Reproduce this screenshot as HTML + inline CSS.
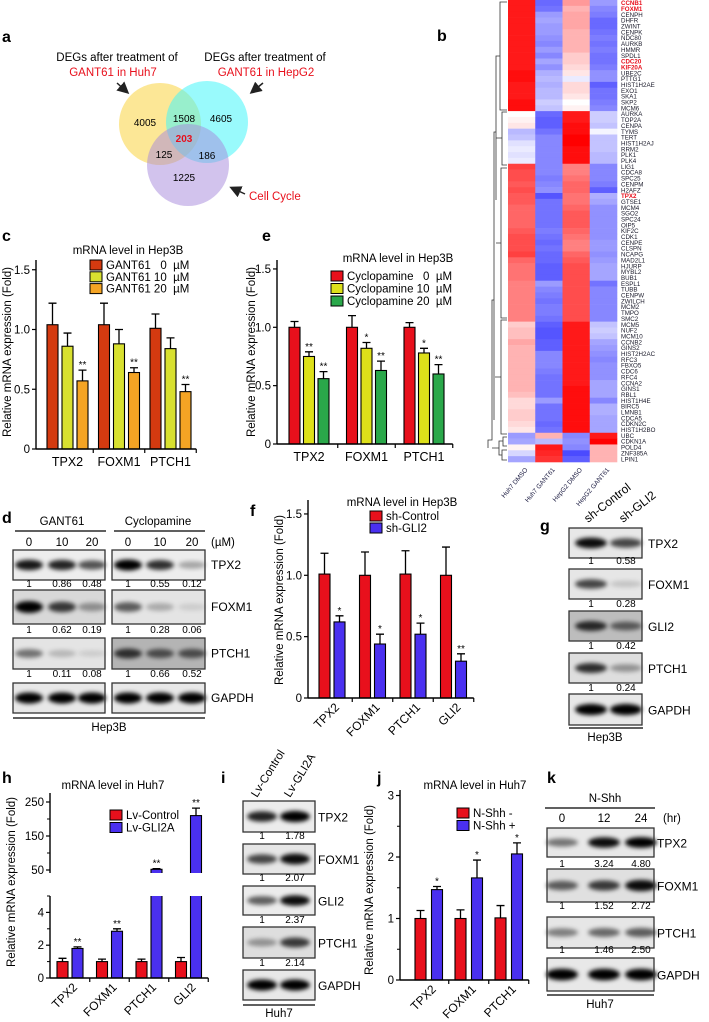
<!DOCTYPE html>
<html><head><meta charset="utf-8"><style>
html,body{margin:0;padding:0;background:#fff}
svg{display:block;font-family:"Liberation Sans",Arial,sans-serif}
text{white-space:pre}
</style></head><body>
<svg id="fig" width="709" height="1022" viewBox="0 0 709 1022" xmlns="http://www.w3.org/2000/svg">
<defs>
<filter id="blur" x="-20%" y="-50%" width="140%" height="200%"><feGaussianBlur stdDeviation="2.2"/></filter>
<marker id="arr" markerWidth="8" markerHeight="8" refX="6" refY="4" orient="auto"><path d="M0,0 L8,4 L0,8 z" fill="#222"/></marker>
</defs>
<g>
<text x="2" y="42" font-size="16" font-weight="bold">a</text>
<text x="117" y="61" font-size="11.5" text-anchor="middle">DEGs after treatment of</text>
<text x="113" y="76" font-size="11.5" text-anchor="middle" fill="#e8101c">GANT61 in Huh7</text>
<text x="265" y="61" font-size="11.5" text-anchor="middle">DEGs after treatment of</text>
<text x="266" y="76" font-size="11.5" text-anchor="middle" fill="#e8101c">GANT61 in HepG2</text>
<circle cx="160" cy="124" r="41" fill="rgba(250,215,80,0.6)"/>
<circle cx="207" cy="122" r="41" fill="rgba(70,245,250,0.55)"/>
<circle cx="188" cy="165" r="41" fill="rgba(165,135,220,0.5)"/>
<g font-size="10" text-anchor="middle">
<text x="145" y="126">4005</text><text x="184" y="122">1508</text><text x="221" y="122">4605</text>
<text x="184" y="142" fill="#e8101c" font-weight="bold">203</text>
<text x="164" y="158">125</text><text x="207" y="159">186</text><text x="184" y="181">1225</text>
</g>
<line x1="117" y1="83" x2="127" y2="92" stroke="#222" stroke-width="1.5" marker-end="url(#arr)"/>
<line x1="263" y1="83" x2="252" y2="92" stroke="#222" stroke-width="1.5" marker-end="url(#arr)"/>
<line x1="245" y1="194" x2="232" y2="188" stroke="#222" stroke-width="1.5" marker-end="url(#arr)"/>
<text x="249" y="200" font-size="11.5" fill="#e8101c">Cell Cycle</text>
</g>
<text x="437" y="41" font-size="16" font-weight="bold">b</text>
<text x="2" y="241" font-size="16" font-weight="bold">c</text>
<text x="262" y="241" font-size="16" font-weight="bold">e</text>
<text x="2" y="523" font-size="16" font-weight="bold">d</text>
<text x="250" y="516" font-size="16" font-weight="bold">f</text>
<text x="540" y="531" font-size="16" font-weight="bold">g</text>
<text x="2" y="783" font-size="16" font-weight="bold">h</text>
<text x="221" y="783" font-size="16" font-weight="bold">i</text>
<text x="377" y="783" font-size="16" font-weight="bold">j</text>
<text x="547" y="783" font-size="16" font-weight="bold">k</text>
</svg>
<script>
const NS='http://www.w3.org/2000/svg';
const svg=document.getElementById('fig');
function el(tag,attrs,parent){const e=document.createElementNS(NS,tag);for(const k in attrs)e.setAttribute(k,attrs[k]);(parent||svg).appendChild(e);return e;}
function txt(x,y,s,attrs,parent){const t=el('text',Object.assign({x:x,y:y},attrs||{}),parent);t.textContent=s;return t;}

const hmGenes=["CCNB1","FOXM1","CENPH","DHFR","ZWINT","CENPK","NDC80","AURKB","HMMR","SPDL1","CDC20","KIF20A","UBE2C","PTTG1","HIST1H2AE","EXO1","SKA1","SKP2","MCM6",
"AURKA","TOP2A","CENPA","TYMS","TERT","HIST1H2AJ","RRM2","PLK1","PLK4",
"LIG1","CDCA8","SPC25","CENPM","H2AFZ","TPX2","GTSE1","MCM4","SGO2","SPC24","OIP5","KIF2C","CDK1","CENPE","CLSPN","NCAPG","MAD2L1","HJURP","MYBL2","BUB1","ESPL1","TUBB","CENPW","ZWILCH","MCM2","TMPO","SMC2",
"MCM5","NUF2","MCM10","CCNB2","GINS2","HIST2H2AC","RFC3","FBXO5","CDC6","RFC4","CCNA2","GINS1","RBL1","HIST1H4E","BIRC5","LMNB1","CDCA5","CDKN2C","HIST1H2BO",
"UBC","CDKN1A","POLD4","ZNF385A","LPIN1"];
const hmHighlight=["CCNB1","FOXM1","CDC20","KIF20A","TPX2"];
const hmSamples=["Huh7 DMSO","Huh7 GANT61","HepG2 DMSO","HepG2 GANT61"];
const huh7Dmso=[0.9,0.9,0.9,0.9,0.9,0.9,0.9,0.9,0.9,0.9,0.9,0.9,0.95,0.95,0.9,0.9,0.9,0.95,0.95,
0,0.05,0.1,-0.35,-0.3,-0.15,-0.1,-0.15,-0.1,
0.75,0.7,0.7,0.65,0.7,0.65,0.65,0.6,0.6,0.6,0.6,0.65,0.7,0.7,0.7,0.75,0.6,0.55,0.55,0.55,0.5,0.5,0.5,0.5,0.5,0.5,0.5,
0.2,0.25,0.25,0.35,0.3,0.3,0.3,0.3,0.3,0.3,0.3,0.3,0.25,0.15,0.15,0.2,0.2,0.15,0.1,
-0.5,-0.45,0.05,-0.2,-0.45];
const huh7Gant=[-0.75,-0.7,-0.5,-0.45,-0.5,-0.5,-0.55,-0.6,-0.5,-0.6,-0.45,-0.55,-0.4,-0.35,-0.4,-0.35,-0.35,-0.25,-0.3,
-0.75,-0.8,-0.8,-0.7,-0.6,-0.6,-0.6,-0.6,-0.6,
-0.6,-0.6,-0.65,-0.6,-0.55,-0.85,-0.7,-0.7,-0.7,-0.7,-0.7,-0.65,-0.7,-0.75,-0.7,-0.75,-0.75,-0.8,-0.8,-0.8,-0.5,-0.6,-0.65,-0.7,-0.65,-0.65,-0.7,
-0.8,-0.85,-0.85,-0.8,-0.8,-0.6,-0.6,-0.6,-0.65,-0.7,-0.7,-0.7,-0.7,-0.5,-0.7,-0.7,-0.7,-0.75,-0.7,
0.3,-0.35,0.9,0.85,0.8];
const hepg2Dmso=[0.4,0.3,0.35,0.35,0.35,0.3,0.3,0.3,0.3,0.2,0.2,0.15,0.1,-0.1,0.15,0.15,0.1,0.0,0.05,
0.9,0.9,0.95,0.95,1,1,0.95,0.95,0.95,
0.5,0.5,0.55,0.6,0.6,0.55,0.55,0.6,0.65,0.65,0.65,0.6,0.55,0.5,0.5,0.6,0.65,0.7,0.7,0.7,0.7,0.7,0.7,0.7,0.7,0.7,0.7,
0.9,0.9,0.9,0.9,0.9,0.9,0.9,0.9,0.9,0.9,0.9,0.95,0.95,0.95,0.95,0.95,0.95,0.95,0.95,
-0.6,-0.55,-0.6,-0.9,-0.8];
const hepg2Gant=[-0.5,-0.6,-0.65,-0.75,-0.75,-0.7,-0.65,-0.7,-0.65,-0.7,-0.7,-0.65,-0.55,-0.55,-0.8,-0.7,-0.7,-0.65,-0.6,
-0.25,-0.25,-0.3,-0.05,-0.3,-0.3,-0.3,-0.35,-0.35,
-0.6,-0.6,-0.6,-0.65,-0.8,-0.4,-0.45,-0.55,-0.55,-0.55,-0.55,-0.55,-0.55,-0.5,-0.5,-0.55,-0.5,-0.45,-0.45,-0.45,-0.7,-0.6,-0.6,-0.6,-0.6,-0.6,-0.6,
-0.3,-0.25,-0.3,-0.45,-0.5,-0.55,-0.6,-0.55,-0.55,-0.55,-0.45,-0.45,-0.45,-0.6,-0.4,-0.4,-0.45,-0.45,-0.45,
0.9,1.0,0.3,0.3,0.3];

function hmColor(v){v=Math.max(-1,Math.min(1,v));
 if(v>=0){const k=Math.round(255*(1-v));return `rgb(255,${k},${k})`;}
 const a=-v;return `rgb(${Math.round(255-a*200)},${Math.round(255-a*200)},255)`;}
(function(){
 const g=el('g',{});
 
 
 const x0=508,cw=27.25,y0=0,rh=462/hmGenes.length;
 const cols=[huh7Dmso,huh7Gant,hepg2Dmso,hepg2Gant];
 hmGenes.forEach((gn,i)=>{
  cols.forEach((arr,c)=>{
   const r=el('rect',{x:x0+c*cw,y:y0+i*rh,width:cw+0.3,height:rh+0.3,fill:hmColor(arr[i])},g);
   
   
  });
  const red=hmHighlight.includes(gn);
  const t=txt(621,y0+i*rh+rh*0.5+2.2,gn,{'font-size':6.2,fill:red?'#e8101c':'#1a1a2a','font-weight':red?'bold':'normal'},g);
  
  
 });
 hmSamples.forEach((s,c)=>{
  const cx=x0+c*cw+cw*0.55+5, cy=470;
  const t=txt(cx,cy,s,{'font-size':6.5,'text-anchor':'end',fill:'#1a1a40',transform:`rotate(-50 ${cx} ${cy})`},g);
  
  
 });
 const d=el('path',{d:`M507,2 H500 V110 H507 M500,56 H496 V200 M507,112 H502 V165 H507 M502,138 H496 M507,168 H501 V318 H507 M501,243 H496 M507,320 H501 V434 H507 M501,377 H495 M496,132 H494 V420 M494,300 H492 V440 H488 V448 M507,437 H503 V446 H507 M507,450 H502 V460 H507 M503,441 H499 V455 H502 M499,448 H492`,fill:'none',stroke:'#333','stroke-width':0.8},g);
 
 
})();

const catsC=["TPX2","FOXM1","PTCH1"];
const gant0=[1.04,1.04,1.01], gant0Err=[0.18,0.18,0.12];
const gant10=[0.86,0.88,0.84], gant10Err=[0.11,0.12,0.09];
const gant20=[0.57,0.64,0.48], gant20Err=[0.09,0.04,0.06];
const starsC=[["","",""],["","",""],["**","**","**"]];
const legendC=["GANT61   0  \u00b5M","GANT61 10  \u00b5M","GANT61 20  \u00b5M"];
const ticksHep=[0,0.5,1.0,1.5];
const tickLabelsHep=["0","0.5","1.0","1.5"];

const catsE=["TPX2","FOXM1","PTCH1"];
const cyc0=[1.0,1.0,1.0], cyc0Err=[0.05,0.1,0.04];
const cyc10=[0.75,0.82,0.78], cyc10Err=[0.04,0.05,0.04];
const cyc20=[0.56,0.63,0.60], cyc20Err=[0.06,0.08,0.08];
const starsE=[["","",""],["**","*","*"],["**","**","**"]];
const legendE=["Cyclopamine   0  \u00b5M","Cyclopamine 10  \u00b5M","Cyclopamine 20  \u00b5M"];

const catsF=["TPX2","FOXM1","PTCH1","GLI2"];
const shCtrl=[1.01,1.0,1.01,1.0], shCtrlErr=[0.17,0.19,0.19,0.23];
const shGli2=[0.62,0.44,0.52,0.30], shGli2Err=[0.05,0.08,0.09,0.06];
const starsF=[["","","",""],["*","*","*","**"]];
const legendF=["sh-Control","sh-GLI2"];

const catsH=["TPX2","FOXM1","PTCH1","GLI2"];
const lvCtrl=[1.0,1.0,1.0,1.0], lvCtrlErr=[0.2,0.15,0.15,0.25];
const lvGli2a=[1.8,2.85,52,210], lvGli2aErr=[0.1,0.15,2,22];
const starsH=[["","","",""],["**","**","**","**"]];
const legendH=["Lv-Control","Lv-GLI2A"];
const ticksHLow=[0,2,4], ticksHHigh=[50,150,250];

const catsJ=["TPX2","FOXM1","PTCH1"];
const shhMinus=[1.0,1.0,1.01], shhMinusErr=[0.13,0.14,0.2];
const shhPlus=[1.47,1.66,2.05], shhPlusErr=[0.05,0.29,0.18];
const starsJ=[["","",""],["*","*","*"]];
const legendJ=["N-Shh -","N-Shh +"];
const ticksJ=[0,1,2,3];

function barChart(o){
 const g=el('g',{});
 
 
 const y=o.yFn||(v=>o.y0-v*o.unit);
 const nG=o.cats.length,nS=o.series.length;
 const gw=(nS-1)*o.bs+o.bw;
 const pad=(o.gs-gw)/2;
 const xEnd=o.bx+(nG-1)*o.gs+gw+pad;
 for(let s=0;s<nS;s++){for(let i=0;i<nG;i++){
  const v=o.series[s][i],e=o.errs[s][i];
  const bx=o.bx+i*o.gs+s*o.bs,cx=bx+o.bw/2;
  const top=y(v),et=y(v+e);
  const eb=el('path',{d:`M${cx},${top} V${et} M${cx-4},${et} H${cx+4}`,stroke:'#000','stroke-width':1.3,fill:'none'},g);
  
  
  const r=el('rect',{x:bx,y:top,width:o.bw,height:o.y0-top,fill:o.colors[s],stroke:'#000','stroke-width':1.1},g);
  
  
  if(o.stars[s][i]){const st=txt(cx,et-2,o.stars[s][i],{'font-size':10,'text-anchor':'middle'},g);
   
   }
 }}
 if(o.gap){const w=el('rect',{x:o.ax-6,y:o.gap[0],width:xEnd-o.ax+10,height:o.gap[1]-o.gap[0],fill:'#fff'},g);
  
  }
 const segs=o.gap?[[o.yTop,o.gap[0]],[o.gap[1],o.y0]]:[[o.yTop,o.y0]];
 segs.forEach(sg=>{const a=el('line',{x1:o.ax,y1:sg[0],x2:o.ax,y2:sg[1],stroke:'#000','stroke-width':1.4},g);
  
  });
 o.ticks.forEach((t,i)=>{const ty=y(t);
  const tl=el('line',{x1:o.ax-4,y1:ty,x2:o.ax,y2:ty,stroke:'#000','stroke-width':1.2},g);
  
  
  const lb=txt(o.ax-6,ty+4,o.tickLabels[i],{'font-size':o.tfs||11.5,'text-anchor':'end'},g);
  
  });
 (o.minor||[]).forEach(t=>{const ty=y(t);
  const ml=el('line',{x1:o.ax-3,y1:ty,x2:o.ax,y2:ty,stroke:'#000','stroke-width':1},g);
  
  });
 const xa=el('line',{x1:o.ax,y1:o.y0,x2:xEnd,y2:o.y0,stroke:'#000','stroke-width':1.4},g);
 
 
 for(let i=1;i<=nG;i++){const tx=o.bx+i*o.gs-pad;
  const t=el('line',{x1:tx,y1:o.y0,x2:tx,y2:o.y0+4,stroke:'#000','stroke-width':1.2},g);
  
  }
 o.cats.forEach((c,i)=>{const cx=o.bx+i*o.gs+gw/2;
  let t;
  if(o.rot){const lx=cx+8,ly=o.y0+10;
   t=txt(lx,ly,c,{'font-size':o.cfs||12,'text-anchor':'end',transform:`rotate(-45 ${lx} ${ly})`},g);}
  else t=txt(cx,o.y0+17,c,{'font-size':o.cfs||12.5,'text-anchor':'middle'},g);
  
  });
 const yt=txt(o.ytx,o.yty,'Relative mRNA expression (Fold)',{'font-size':o.ytfs||11.5,'text-anchor':'middle',transform:`rotate(-90 ${o.ytx} ${o.yty})`},g);
 
 
 const ti=txt(o.title[0],o.title[1],o.title[2],{'font-size':o.titfs||11.5,'text-anchor':'middle'},g);
 
 
 o.legend.forEach((l,i)=>{const ly=o.lg[1]+i*o.lg[2];
  const sw=el('rect',{x:o.lg[0],y:ly-5,width:12,height:10,fill:o.colors[i],stroke:'#000','stroke-width':1},g);
  
  
  const lt=txt(o.lg[0]+16,ly+4,l,{'font-size':o.lfs||11.5},g);
  
  });
}

barChart({name:'chart-c-gant61',cats:catsC,series:[gant0,gant10,gant20],errs:[gant0Err,gant10Err,gant20Err],stars:starsC,
 colors:['#d43a10','#d8e030','#f4a424'],ax:36,y0:449,unit:119.5,yTop:260,bx:47,bs:15,bw:11,gs:51.5,
 ticks:ticksHep,tickLabels:tickLabelsHep,ytx:11,yty:352,title:[128,254,'mRNA level in Hep3B'],legend:legendC,lg:[90,265,11.8]});
barChart({name:'chart-e-cyclopamine',cats:catsE,series:[cyc0,cyc10,cyc20],errs:[cyc0Err,cyc10Err,cyc20Err],stars:starsE,
 colors:['#e8101c','#dde01a','#2aa84a'],ax:277,y0:444,unit:116.7,yTop:260,bx:289,bs:14.5,bw:11,gs:57.5,
 ticks:ticksHep,tickLabels:tickLabelsHep,ytx:255,yty:352,title:[398,262,'mRNA level in Hep3B'],legend:legendE,lg:[331,276,12.5]});
barChart({name:'chart-f-shgli2',cats:catsF,series:[shCtrl,shGli2],errs:[shCtrlErr,shGli2Err],stars:starsF,
 colors:['#e8101c','#4a30f0'],ax:308,y0:698,unit:122.7,yTop:500,bx:319,bs:15,bw:11,gs:40.5,rot:true,
 ticks:ticksHep,tickLabels:tickLabelsHep,ytx:283,yty:600,title:[402,506,'mRNA level in Hep3B'],legend:legendF,lg:[370,516,12]});
barChart({name:'chart-h-lvgli2a',cats:catsH,series:[lvCtrl,lvGli2a],errs:[lvCtrlErr,lvGli2aErr],stars:starsH,
 colors:['#e8101c','#4a30f0'],ax:50,y0:978,yTop:793,gap:[873,896],bx:57,bs:15,bw:11,gs:39.5,rot:true,
 yFn:v=>v<=5?978-v*16.4:870-(v-50)*0.34,
 ticks:ticksHLow.concat(ticksHHigh),tickLabels:ticksHLow.concat(ticksHHigh).map(String),minor:[1,3,5,100,200],
 ytx:15,yty:882,title:[113,789,'mRNA level in Huh7'],legend:legendH,lg:[110,815,12.5]});
barChart({name:'chart-j-nshh',cats:catsJ,series:[shhMinus,shhPlus],errs:[shhMinusErr,shhPlusErr],stars:starsJ,
 colors:['#e8101c','#4a30f0'],ax:400,y0:980,unit:61.5,yTop:790,bx:415,bs:16.5,bw:11,gs:40,rot:true,
 ticks:ticksJ,tickLabels:ticksJ.map(String),minor:[0.5,1.5,2.5],ytx:373,yty:890,title:[475,789,'mRNA level in Huh7'],legend:legendJ,lg:[457,813,12.5]});

function blot(name,x,y,w,h,lanes,ints,bg,bw){
 const g=el('g',{});
 
 
 const b=el('rect',{x:x,y:y,width:w,height:h,fill:bg},g);
 
 
 lanes.forEach((lx,i)=>{
  const e=el('ellipse',{cx:lx,cy:y+h/2,rx:(bw||13),ry:Math.max(2,h*0.1+ints[i]*2.5),fill:'#000','fill-opacity':Math.min(1,ints[i]),filter:'url(#blur)'},g);
  
  
 });
 const f=el('rect',{x:x,y:y,width:w,height:h,fill:'none',stroke:'#333','stroke-width':1.3},g);
 
 
}
function label(x,y,s,fs,anchor){const t=txt(x,y,s,{'font-size':fs,'text-anchor':anchor||'start'});
 
 return t;}
function hline(x1,x2,y){const l=el('line',{x1:x1,y1:y,x2:x2,y2:y,stroke:'#000','stroke-width':1.3});
 
 }
function quant(xs,y,vals){vals.forEach((v,i)=>{const t=txt(xs[i],y,v,{'font-size':10,'text-anchor':'middle'});
 
 });}

const dL=[29,62,92],dR=[128,160,192];
label(62,525,'GANT61',11.5,'middle');label(158,525,'Cyclopamine',11.5,'middle');
hline(15,106,531);hline(114,205,531);
['0','10','20'].forEach((s,i)=>{label(dL[i],546,s,11.5,'middle');label(dR[i],546,s,11.5,'middle');});
label(211,546,'(\u00b5M)',11.5);
const dRows=[['TPX2',550,30,[0.9,0.85,0.65],[1,0.8,0.3],'#ededed','#ededed',587,['1','0.86','0.48'],['1','0.55','0.12']],
 ['FOXM1',590,34,[1,0.75,0.35],[0.6,0.25,0.1],'#d8d8d8','#e4e4e4',633,['1','0.62','0.19'],['1','0.28','0.06']],
 ['PTCH1',638,31,[0.5,0.2,0.1],[0.75,0.6,0.6],'#e4e4e4','#b4b4b4',677,['1','0.11','0.08'],['1','0.66','0.52']],
 ['GAPDH',683,30,[1,1,1],[1,1,1],'#e8e8e8','#e8e8e8',null]];
dRows.forEach(r=>{blot('blot-d-gant61-'+r[0].toLowerCase(),13,r[1],92,r[2],dL,r[3],r[5],14);
 blot('blot-d-cyclopamine-'+r[0].toLowerCase(),112,r[1],93,r[2],dR,r[4],r[6],14);
 label(211,r[1]+r[2]/2+4,r[0],12);
 if(r[7]){quant(dL,r[7],r[8]);quant(dR,r[7],r[9]);}});
hline(13,205,718);label(109,731,'Hep3B',11.5,'middle');

const gL=[591,626];
[['sh-Control',588,523],['sh-GLI2',623,523]].forEach(s=>{const t=txt(s[1],s[2],s[0],{'font-size':12,transform:`rotate(-38 ${s[1]} ${s[2]})`});
 
 });
const gRows=[['TPX2',528,30,[0.95,0.7],'#e8e8e8',564,['1','0.58']],['FOXM1',569,30,[0.7,0.15],'#e6e6e6',607,['1','0.28']],
 ['GLI2',611,30,[0.8,0.55],'#bdbdbd',649,['1','0.42']],['PTCH1',653,30,[0.8,0.35],'#dedede',691,['1','0.24']],['GAPDH',694,31,[1,1],'#e8e8e8',null]];
gRows.forEach(r=>{blot('blot-g-'+r[0].toLowerCase(),569,r[1],73,r[2],gL,r[3],r[4],16);label(648,r[1]+r[2]/2+5,r[0],12);if(r[5])quant(gL,r[5],r[6]);});
hline(569,643,728);label(605,741,'Hep3B',11.5,'middle');

const iL=[262,295];
[['Lv-Control',257,798],['Lv-GLI2A',290,798]].forEach(s=>{const t=txt(s[1],s[2],s[0],{'font-size':11.5,transform:`rotate(-58 ${s[1]} ${s[2]})`});
 
 });
const iRows=[['TPX2',801,31,[0.85,1],'#ececec',839,['1','1.78']],['FOXM1',844,30,[0.7,0.95],'#e6e6e6',881,['1','2.07']],
 ['GLI2',886,29,[0.6,0.95],'#ececec',923,['1','2.37']],['PTCH1',927,31,[0.35,0.75],'#dedede',966,['1','2.14']],['GAPDH',970,30,[1,1],'#e8e8e8',null]];
iRows.forEach(r=>{blot('blot-i-'+r[0].toLowerCase(),243,r[1],72,r[2],iL,r[3],r[4],15);label(318,r[1]+r[2]/2+5,r[0],12);if(r[5])quant(iL,r[5],r[6]);});
hline(243,315,1005);label(279,1017,'Huh7',11.5,'middle');

const kL=[562,604,641];
label(605,802,'N-Shh',11.5,'middle');hline(545,655,808);
['0','12','24'].forEach((s,i)=>label(kL[i],822,s,11.5,'middle'));label(663,822,'(hr)',11.5);
const kRows=[['TPX2',828,29,[0.5,0.95,1],'#e8e8e8',867,['1','3.24','4.80']],['FOXM1',869,33,[0.6,0.75,0.95],'#e0e0e0',909,['1','1.52','2.72']],
 ['PTCH1',917,31,[0.45,0.55,0.6],'#e6e6e6',953,['1','1.46','2.50']],['GAPDH',958,33,[1,1,1],'#e8e8e8',null]];
kRows.forEach(r=>{blot('blot-k-'+r[0].toLowerCase(),547,r[1],107,r[2],kL,r[3],r[4],16);label(657,r[1]+r[2]/2+5,r[0],12);if(r[5])quant(kL,r[5],r[6]);});
hline(547,654,995);label(600,1008,'Huh7',11.5,'middle');
</script>
</body></html>
